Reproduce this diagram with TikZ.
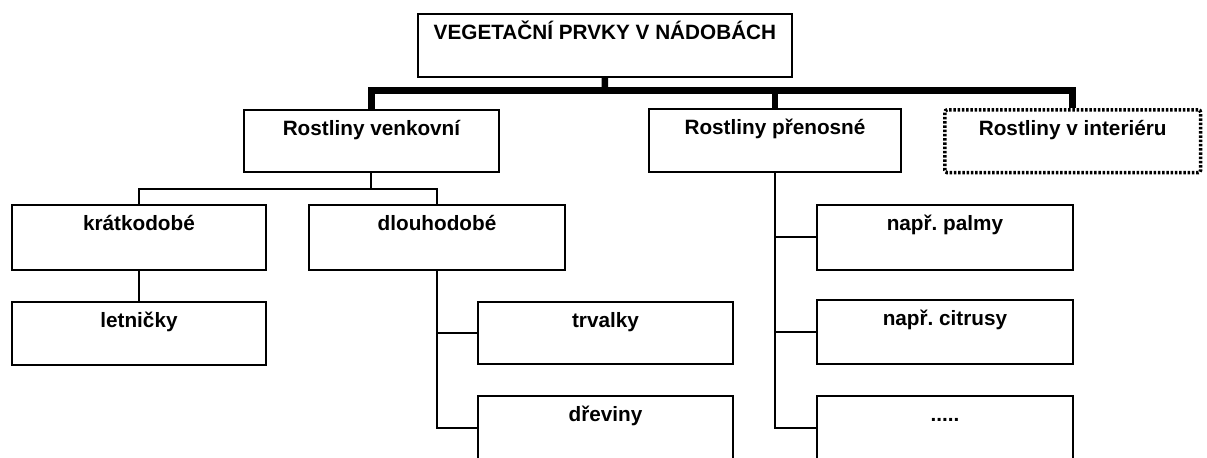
\documentclass[tikz,border=0pt]{standalone}
\usepackage{fontspec}
\setmainfont{Liberation Sans}
\frenchspacing
\begin{document}
\begin{tikzpicture}[x=0.02cm, y=-0.02cm,
	box/.style={draw=black, line width=0.04cm, anchor=north west, inner sep=0pt,
		minimum width=5.1cm, text height=0.51cm, text depth=0.77cm,
		font=\fontsize{11.8}{13}\selectfont\bfseries},
	dotbox/.style={box, line width=0.07cm, dash pattern=on 0.05cm off 0.035cm, rounded corners=1.5pt},
	link/.style={draw=black, line width=0.04cm},
	bus/.style={draw=black, line width=0.13cm}]
	\useasboundingbox (0,0) rectangle (1207,457);
	\clip (0,0) rectangle (1207,457);
	\node[box, minimum width=7.48cm, text depth=0.75cm] (top) at (417,13) {VEGETAČNÍ PRVKY V NÁDOBÁCH};
	\node[box, text depth=0.73cm] (venk) at (243,109) {Rostliny venkovní};
	\node[box, minimum width=5.04cm, text depth=0.75cm] (pren) at (648,108) {Rostliny přenosné};
	\node[dotbox, minimum width=5.12cm, text depth=0.75cm] (inter) at (943,108) {Rostliny v interiéru};
	\node[box, minimum width=5.08cm, text depth=0.79cm] (kratko) at (11,204) {krátkodobé};
	\node[box, minimum width=5.12cm, text depth=0.79cm] (dlouho) at (308,204) {dlouhodobé};
	\node[box, minimum width=5.08cm, text depth=0.75cm] (letn) at (11,301) {letničky};
	\node[box, text depth=0.73cm] (trval) at (477,301) {trvalky};
	\node[box, text depth=0.77cm] (drev) at (477,395) {dřeviny};
	\node[box, minimum width=5.12cm, text depth=0.79cm] (palmy) at (816,204) {např. palmy};
	\node[box, minimum width=5.12cm, text depth=0.77cm] (citr) at (816,299) {např. citrusy};
	\node[box, minimum width=5.12cm, text depth=0.77cm] (dots) at (816,395) {.....};
	\coordinate (bus) at (605,90.5);
	\coordinate (fork) at ([yshift=-0.32cm]venk.south);
	\draw[bus] (top.south) -- (bus);
	\draw[bus] (venk.north) |- (bus) -| (inter.north);
	\draw[bus] (pren.north) -- (pren.north |- bus);
	\draw[link] (venk.south) -- (fork);
	\draw[link] (kratko.north) |- (fork) -| (dlouho.north);
	\draw[link] (kratko.south) -- (letn.north);
	\draw[link] (dlouho.south) |- (drev.west);
	\draw[link] (trval.west) -- (trval.west -| dlouho.south);
	\draw[link] (pren.south) |- (dots.west);
	\draw[link] (palmy.west) -- (palmy.west -| pren.south);
	\draw[link] (citr.west) -- (citr.west -| pren.south);
\end{tikzpicture}
\end{document}
